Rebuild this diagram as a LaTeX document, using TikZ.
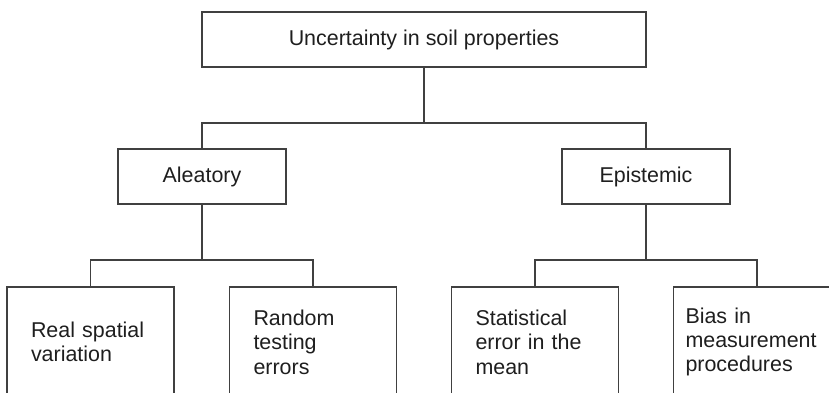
\documentclass[tikz,border=0pt]{standalone}
\usepackage{fontspec}
\setmainfont{Liberation Sans}

\newcommand{\varW}{16.58}
\newcommand{\varH}{7.86}
\newcommand{\varbw}{3.36}
\newcommand{\varbh}{1.1}
\newcommand{\vargap}{1.1}
\definecolor{myline}{RGB}{64,64,64}
\definecolor{mytext}{RGB}{30,30,30}

\begin{document}
\begin{tikzpicture}[
	box/.style={draw=myline, line width=1.1pt, rectangle, inner sep=0pt, text=mytext,
		font=\fontsize{12.2}{13.9}\selectfont},
	headbox/.style={box, minimum width=\varbw cm, minimum height=\varbh cm},
	leafbox/.style={box, align=left, inner xsep=0.48cm, text width=\varbw cm-0.98cm,
		minimum height=2.2cm},
	link/.style={draw=myline, line width=1.1pt}]

	% frame
	\useasboundingbox (0,0) rectangle (\varW,-\varH);

	% boxes
	\node [headbox, minimum width=8.88cm] (soil) at (8.48,-0.79) {Uncertainty in soil properties};
	\node [headbox] (alea) at (4.04,-3.53) {Aleatory};
	\node [headbox] (epis) at (12.92,-3.53) {Epistemic};

	\node [leafbox] (real) at (1.81,-6.84) {Real spatial\\variation};
	\node [leafbox] (rand) at (6.26,-6.84) {Random\\testing\\errors};
	\node [leafbox] (stat) at (10.70,-6.84) {Statistical\\error in the\\mean};
	\node [leafbox, inner xsep=0.24cm, text width=\varbw cm-0.5cm] (bias) at (15.14,-6.84) {Bias in\\measurement\\procedures};

	% lines
	\path [link] (soil.south) -- ++(0,-\vargap) -| (alea.north);
	\path [link] (soil.south) -- ++(0,-\vargap) -| (epis.north);
	\path [link] (alea.south) -- ++(0,-\vargap) -| (real.north);
	\path [link] (alea.south) -- ++(0,-\vargap) -| (rand.north);
	\path [link] (epis.south) -- ++(0,-\vargap) -| (stat.north);
	\path [link] (epis.south) -- ++(0,-\vargap) -| (bias.north);
\end{tikzpicture}
\end{document}
